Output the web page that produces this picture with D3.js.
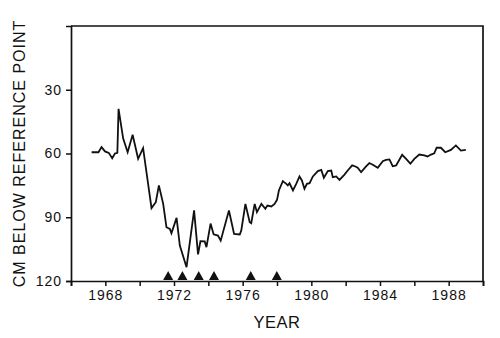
<!DOCTYPE html>
<html>
<head>
<meta charset="utf-8">
<script src="https://cdn.jsdelivr.net/npm/d3@7"></script>
<style>
  body { margin: 0; background: #fff; }
  text { font-family: "Liberation Sans", Arial, sans-serif; fill: #111; }
</style>
</head>
<body>
<div id="container"></div>
<script>
/* CONSTANTS AND GLOBALS */
const width = 500,
  height = 338,
  margin = { top: 26, bottom: 57, left: 71, right: 17 };

// water level readings (decimal year, cm below reference point)
const years = [
  1967.20, 1967.60, 1967.78, 1967.98, 1968.20, 1968.40, 1968.56, 1968.70, 1968.77, 1969.04,
  1969.30, 1969.59, 1969.91, 1970.20, 1970.69, 1970.94, 1971.12, 1971.37, 1971.56, 1971.76,
  1971.85, 1972.15, 1972.34, 1972.73, 1973.17, 1973.40, 1973.54, 1973.79, 1973.89, 1974.13,
  1974.31, 1974.56, 1974.72, 1975.20, 1975.50, 1975.83, 1975.92, 1976.16, 1976.41, 1976.50,
  1976.70, 1976.83, 1977.09, 1977.32, 1977.44, 1977.67, 1977.86, 1978.00, 1978.11, 1978.34,
  1978.54, 1978.63, 1978.73, 1978.93, 1979.12, 1979.31, 1979.45, 1979.60, 1979.74, 1979.90,
  1980.09, 1980.38, 1980.58, 1980.73, 1980.96, 1981.16, 1981.25, 1981.45, 1981.64, 1981.93,
  1982.12, 1982.38, 1982.57, 1982.70, 1982.90, 1983.19, 1983.38, 1983.58, 1983.87, 1984.16,
  1984.35, 1984.55, 1984.74, 1984.94, 1985.29, 1985.52, 1985.77, 1986.00, 1986.29, 1986.58,
  1986.77, 1986.97, 1987.16, 1987.30, 1987.55, 1987.80, 1988.13, 1988.42, 1988.71, 1989.00
];
const depths = [
  59.4, 59.4, 57.0, 59.0, 59.7, 62.2, 60.0, 59.7, 39.0, 53.0,
  59.4, 51.2, 62.5, 57.5, 85.7, 82.9, 75.0, 83.7, 94.7, 95.5,
  97.5, 90.3, 103.3, 113.5, 86.8, 107.5, 101.3, 101.4, 104.1, 93.0,
  98.0, 98.6, 101.0, 86.8, 97.8, 98.1, 96.2, 83.7, 92.3, 92.8,
  83.7, 87.6, 83.7, 86.0, 84.5, 84.9, 83.7, 81.8, 77.4, 73.0,
  74.3, 75.0, 74.0, 77.4, 74.3, 70.8, 72.7, 76.6, 74.3, 74.0,
  70.8, 68.3, 67.7, 71.4, 68.3, 68.0, 71.1, 70.8, 72.4, 69.9,
  68.0, 65.6, 66.1, 66.7, 68.8, 66.1, 64.5, 65.3, 66.7, 63.6,
  63.0, 62.8, 66.0, 65.6, 60.6, 62.5, 64.8, 62.5, 60.5, 60.9,
  61.4, 60.5, 59.9, 57.3, 57.3, 59.4, 58.3, 56.2, 58.6, 58.3
];

// event markers along the bottom axis
const markerYears = [1971.66, 1972.49, 1973.44, 1974.33, 1976.47, 1977.99];

const xTicks = d3.range(1966, 1991, 2);
const yTicks = [30, 60, 90, 120];

const data = years.map((d, i) => ({ year: d, depth: depths[i] }));

/* SCALES */
const xScale = d3.scaleLinear()
  .domain([1966, 1990])
  .range([margin.left, width - margin.right]);

const yScale = d3.scaleLinear()
  .domain([0, 120])
  .range([margin.top, height - margin.bottom]);

/* DRAW */
const svg = d3.select('#container')
  .append('svg')
  .attr('width', width)
  .attr('height', height);

// frame (top + right)
svg.append('path')
  .attr('d', `M${margin.left},${margin.top}H${width - margin.right}V${height - margin.bottom}`)
  .attr('fill', 'none')
  .attr('stroke', '#111')
  .attr('stroke-width', 1.7);

const xAxis = d3.axisBottom(xScale)
  .tickValues(xTicks)
  .tickSize(5)
  .tickPadding(4)
  .tickFormat(d => d % 4 === 0 ? d : '');

const yAxis = d3.axisLeft(yScale)
  .tickValues(yTicks)
  .tickSize(5)
  .tickPadding(4);

const gx = svg.append('g')
  .attr('transform', `translate(0,${height - margin.bottom})`)
  .call(xAxis);

const gy = svg.append('g')
  .attr('transform', `translate(${margin.left},0)`)
  .call(yAxis);

[gx, gy].forEach(g => {
  g.select('.domain').attr('stroke', '#111').attr('stroke-width', 1.7);
  g.selectAll('.tick line').attr('stroke', '#111').attr('stroke-width', 1.5);
  g.selectAll('.tick text')
    .attr('font-size', 14)
    .attr('letter-spacing', 1)
    .attr('font-family', '"Liberation Sans", Arial, sans-serif')
    .attr('fill', '#111');
});

// the series line
const line = d3.line()
  .x(d => xScale(d.year))
  .y(d => yScale(d.depth));

svg.append('path')
  .datum(data)
  .attr('fill', 'none')
  .attr('stroke', '#111')
  .attr('stroke-width', 1.8)
  .attr('stroke-linejoin', 'miter')
  .attr('d', line);

// triangles sitting on the x axis
svg.selectAll('path.marker')
  .data(markerYears)
  .join('path')
  .attr('class', 'marker')
  .attr('fill', '#111')
  .attr('d', d => {
    const x = xScale(d), y = yScale(120) - 1;
    return `M${x - 5},${y}L${x + 5},${y}L${x},${y - 9}Z`;
  });

// axis titles
svg.append('text')
  .attr('transform', `translate(25,${(margin.top + height - margin.bottom) / 2}) rotate(-90)`)
  .attr('text-anchor', 'middle')
  .attr('font-size', 16)
  .attr('letter-spacing', 1)
  .text('CM BELOW REFERENCE POINT');

svg.append('text')
  .attr('x', (margin.left + width - margin.right) / 2)
  .attr('y', 328)
  .attr('text-anchor', 'middle')
  .attr('font-size', 16.5)
  .attr('letter-spacing', 0.5)
  .text('YEAR');
</script>
</body>
</html>
